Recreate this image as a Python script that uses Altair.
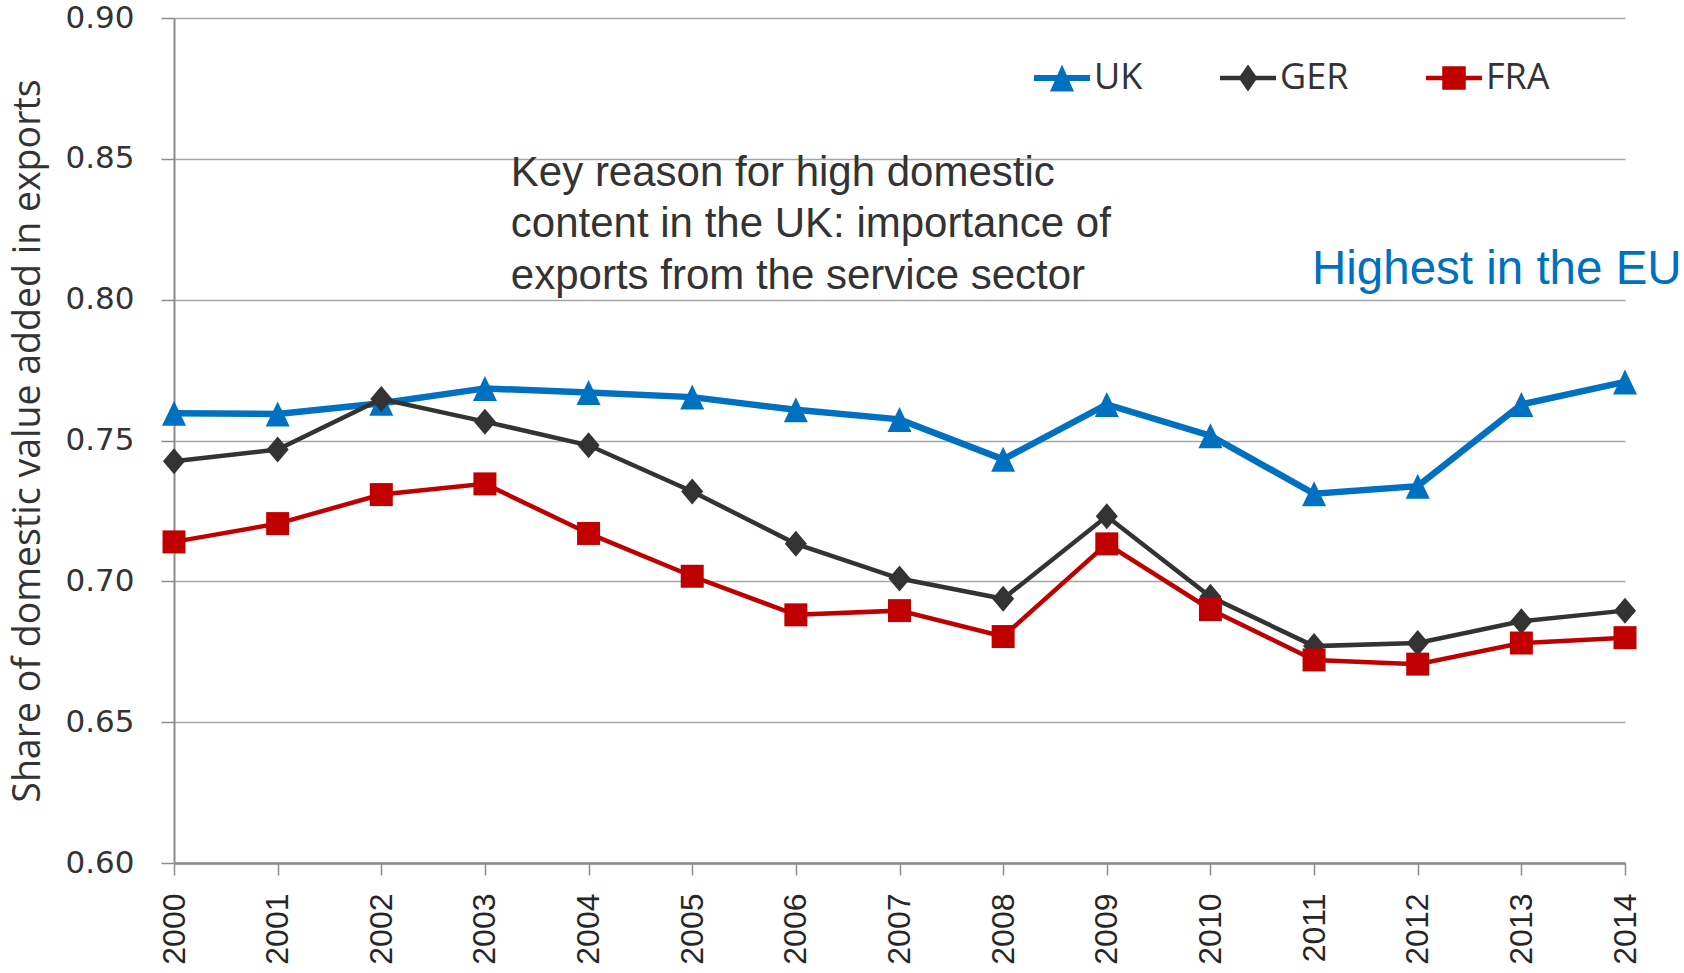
import altair as alt
import pandas as pd

# ---------------- data ----------------
years = list(range(2000, 2015))
uk = [0.7597, 0.7594, 0.7632, 0.7685, 0.7670, 0.7654, 0.7609, 0.7575,
      0.7433, 0.7628, 0.7517, 0.7311, 0.7338, 0.7628, 0.7708]
ger = [0.7426, 0.7468, 0.7647, 0.7567, 0.7483, 0.7319, 0.7133, 0.7010,
       0.6938, 0.7231, 0.6945, 0.6770, 0.6781, 0.6858, 0.6896]
fra = [0.7140, 0.7205, 0.7308, 0.7346, 0.7170, 0.7018, 0.6881, 0.6896,
       0.6804, 0.7133, 0.6900, 0.6721, 0.6706, 0.6781, 0.6800]
countries = ["UK", "GER", "FRA"]
colors = ["#0070C0", "#333333", "#C00000"]
y_ticks = [0.60, 0.65, 0.70, 0.75, 0.80, 0.85, 0.90]

note_lines = ["Key reason for high domestic",
              "content in the UK: importance of",
              "exports from the service sector"]
note_year, note_value = 2003.25, 0.8450
eu_text = "Highest in the EU"
eu_year, eu_value = 2010.98, 0.8104

# ---------------- styles ----------------
line_widths = {"UK": 6.5, "GER": 4.5, "FRA": 4.5}
marker_paths = {
    "UK": "M0,-1L0.96,1H-0.96Z",
    "GER": "M0,-1L0.85,0L0,1L-0.85,0Z",
    "FRA": "M-1,-1H1V1H-1Z",
}
marker_sizes = {"UK": 625, "GER": 676, "FRA": 529}
legend_paths = [
    "M-1,-0.11H1V0.11H-1Z M0,-0.48L0.43,0.48H-0.43Z",
    "M-1,-0.08H1V0.08H-1Z M0,-0.48L0.34,0L0,0.48L-0.34,0Z",
    "M-1,-0.08H1V0.08H-1Z M-0.42,-0.42H0.42V0.42H-0.42Z",
]
grey = "#8c8c8c"

rows = []
for c, vals in zip(countries, [uk, ger, fra]):
    for yr, v in zip(years, vals):
        rows.append({"country": c, "year": yr, "value": v})
df = pd.DataFrame(rows)

x_enc = alt.X(
    "year:Q",
    scale=alt.Scale(domain=[2000, 2014], nice=False, zero=False),
    axis=alt.Axis(values=years, format="d", labelAngle=270,
                  labelFont="Liberation Sans", labelFontSize=32,
                  labelColor="#262626", labelPadding=18, labelFlush=False,
                  labelOverlap=False, labelBound=False,
                  tickSize=12, tickColor=grey, tickWidth=1.5,
                  domainColor=grey, domainWidth=2.5, grid=False),
    title=None,
)
y_enc = alt.Y(
    "value:Q",
    scale=alt.Scale(domain=[0.60, 0.90], nice=False, zero=False),
    axis=alt.Axis(values=y_ticks, format=".2f",
                  labelFont="DejaVu Sans", labelFontSize=31,
                  labelColor="#333333", labelPadding=27, labelFlush=False,
                  tickSize=13, tickColor=grey, tickWidth=1.5,
                  domainColor=grey, domainWidth=2,
                  grid=True, gridColor="#a6a6a6", gridWidth=1.5,
                  titleFont="Open Sans", titleFontSize=37.5,
                  titleFontWeight="normal", titleColor="#333333",
                  titlePadding=17),
    title="Share of domestic value added in exports",
)

layers = []
for c, col in zip(countries, colors):
    sub = alt.Chart(df).transform_filter(alt.datum.country == c)
    layers.append(
        sub.mark_line(color=col, strokeWidth=line_widths[c]).encode(x=x_enc, y=y_enc)
    )
    layers.append(
        sub.mark_point(filled=True, opacity=1, color=col, strokeWidth=0,
                       shape=marker_paths[c], size=marker_sizes[c]).encode(x=x_enc, y=y_enc)
    )

legend_kw = dict(title=None, orient="none", legendX=860, legendY=32,
                 direction="horizontal", columns=3, columnPadding=77,
                 symbolSize=3136, symbolStrokeWidth=0,
                 labelFont="Open Sans", labelFontSize=36,
                 labelColor="#333333", labelOffset=4, padding=0)

# legend-only layer (no data drawn)
legend_layer = alt.Chart(df).transform_filter(alt.datum.year < 0).mark_point(
    filled=True, opacity=1, strokeWidth=0
).encode(
    x=x_enc, y=y_enc,
    color=alt.Color("country:N", scale=alt.Scale(domain=countries, range=colors),
                    legend=alt.Legend(**legend_kw)),
    shape=alt.Shape("country:N", scale=alt.Scale(domain=countries, range=legend_paths),
                    legend=alt.Legend(**legend_kw)),
)

note_df = pd.DataFrame({"year": [note_year], "value": [note_value],
                        "text": ["\n".join(note_lines)]})
note = alt.Chart(note_df).mark_text(
    align="left", baseline="middle", lineBreak="\n", lineHeight=51.5,
    font="Liberation Sans", fontSize=42, color="#333333"
).encode(x=x_enc, y=y_enc, text="text:N")

eu_df = pd.DataFrame({"year": [eu_year], "value": [eu_value], "text": [eu_text]})
eu = alt.Chart(eu_df).mark_text(
    align="left", baseline="middle", font="Liberation Sans", fontSize=47.5,
    color="#0070C0"
).encode(x=x_enc, y=y_enc, text="text:N")

chart = alt.layer(*layers, legend_layer, note, eu).properties(
    width=1451, height=845,
    autosize=alt.AutoSizeParams(type="none"),
    padding={"left": 174, "top": 18, "right": 59, "bottom": 110},
    background="white",
).configure_view(stroke=None)

chart.save("out.html", embed_options={"renderer": "svg", "actions": False})
